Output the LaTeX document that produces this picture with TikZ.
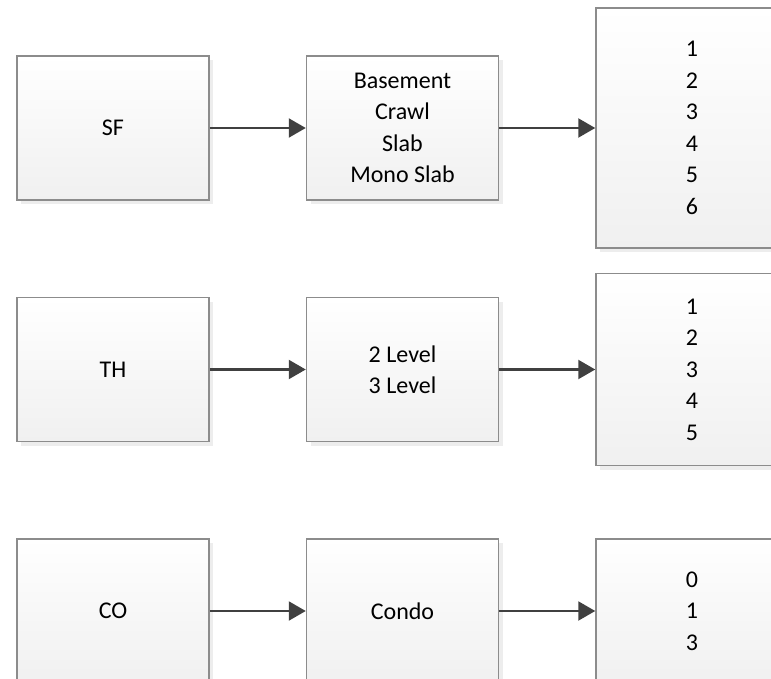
\documentclass[tikz,border=0pt]{standalone}
\usepackage{fontspec}
\setmainfont{Carlito}
\usepackage{tikz}
\usetikzlibrary{arrows.meta,positioning,shadows}

\definecolor{boxline}{HTML}{8C8C8C}
\definecolor{boxbottom}{HTML}{F0F0F0}
\definecolor{arrowgray}{HTML}{404040}

\begin{document}
\begin{tikzpicture}[
			node distance=96pt and 96pt,
			every node/.style={font=\fontsize{24}{31.5}\selectfont},
			box/.style={
				draw=boxline,
				line width=1.5pt,
				top color=white,
				bottom color=boxbottom,
				drop shadow={shadow xshift=4pt, shadow yshift=-4pt, fill=black!7, opacity=1},
				align=center,
				minimum width=192pt,
				minimum height=144pt
			},
			tallbox/.style={box, minimum height=240pt},
			midbox/.style={box, minimum height=192pt},
			arrow/.style={-{Triangle[length=17pt,width=19pt]}, line width=2.2pt, draw=arrowgray}
			]
			
			\useasboundingbox (0,0) rectangle (771pt,-679pt);
			
			% ---- Left column ----
			\node[box] (sf) at (113pt,-128pt) {SF};
			\node[box, below=of sf] (th) {TH};
			\node[box, below=of th] (co) {CO};
			
			% ---- Middle column ----
			\node[box, right=of sf] (found) {Basement\\Crawl\\Slab\\Mono Slab};
			\node[box, right=of th] (level) {2 Level\\3 Level};
			\node[box, right=of co] (condo) {Condo};
			
			% ---- Right column ----
			\node[tallbox, right=of found] (sfnum) {1\\2\\3\\4\\5\\6};
			\node[midbox, right=of level] (thnum) {1\\2\\3\\4\\5};
			\node[box, right=of condo] (conum) {0\\1\\3};
			
			% ---- Arrows ----
			\draw[arrow] (sf) -- (found);
			\draw[arrow] (found) -- (sfnum);
			\draw[arrow] (th) -- (level);
			\draw[arrow] (level) -- (thnum);
			\draw[arrow] (co) -- (condo);
			\draw[arrow] (condo) -- (conum);
			
		\end{tikzpicture}
\end{document}
